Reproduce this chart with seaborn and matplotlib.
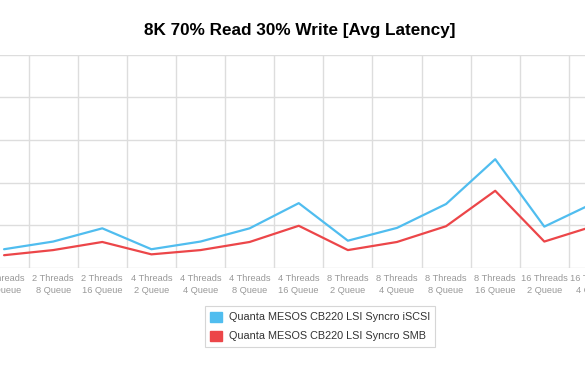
import pandas as pd
import numpy as np
import matplotlib.pyplot as plt
import seaborn as sns
from matplotlib.patches import Patch

# ==================== data (gridline step = 1) ====================
categories = ['2 Threads\n4 Queue', '2 Threads\n8 Queue', '2 Threads\n16 Queue',
              '4 Threads\n2 Queue', '4 Threads\n4 Queue', '4 Threads\n8 Queue',
              '4 Threads\n16 Queue', '8 Threads\n2 Queue', '8 Threads\n4 Queue',
              '8 Threads\n8 Queue', '8 Threads\n16 Queue', '16 Threads\n2 Queue',
              '16 Threads\n4 Queue']
iscsi = [0.44, 0.62, 0.93, 0.44, 0.62, 0.93, 1.52, 0.64, 0.94, 1.50, 2.55, 0.97, 1.52]
smb = [0.30, 0.42, 0.61, 0.32, 0.42, 0.61, 0.99, 0.42, 0.61, 0.98, 1.81, 0.62, 0.98]
series_names = ['Quanta MESOS CB220 LSI Syncro iSCSI', 'Quanta MESOS CB220 LSI Syncro SMB']
colors = ['#50bdef', '#ec4649']

df = pd.DataFrame({
    'cat': categories * 2,
    'lat': iscsi + smb,
    'series': [series_names[0]] * len(categories) + [series_names[1]] * len(categories),
})

sns.set_style('white')
plt.rcParams['font.family'] = ['Liberation Sans', 'DejaVu Sans']

fig = plt.figure(figsize=(5.85, 3.76), dpi=100)
# the chart is cropped: axes run past both figure edges
ax = fig.add_axes([-20.5 / 585, 108 / 376, 638.5 / 585, 213.3 / 376])

sns.lineplot(data=df, x='cat', y='lat', hue='series', palette=colors,
             sort=False, linewidth=1.6, ax=ax, legend=False)

n = len(categories)
ax.set_xlim(-0.5, n - 0.5)
ax.set_ylim(0, 5)
ax.set_yticks(np.arange(0, 6))
ax.set_yticklabels([])
ax.set_xticks(np.arange(n) + 0.5, minor=True)
ax.grid(False)
ax.grid(True, which='minor', axis='x', color='#dddddd', linewidth=1)
ax.grid(True, which='major', axis='y', color='#dddddd', linewidth=1)
ax.tick_params(axis='x', which='both', length=0, labelsize=6.7, labelcolor='#999999', pad=4.5)
ax.tick_params(axis='y', length=0)
for lab in ax.get_xticklabels():
    lab.set_linespacing(1.4)
for s in ax.spines.values():
    s.set_visible(False)
ax.set_xlabel('')
ax.set_ylabel('')

fig.text(300 / 585, 1 - 30.5 / 376, '8K 70% Read 30% Write [Avg Latency]',
         ha='center', va='center', fontsize=12.3, fontweight='bold', color='#000000')

handles = [Patch(facecolor=c, edgecolor=c, label=s) for c, s in zip(colors, series_names)]
leg = fig.legend(handles=handles, loc='center', bbox_to_anchor=(320 / 585, 1 - 326.5 / 376),
                 fontsize=7.8, frameon=True, fancybox=False, edgecolor='#cccccc',
                 handlelength=1.1, handleheight=1.1, handletextpad=0.6,
                 labelspacing=0.75, borderpad=0.5)
leg.get_frame().set_linewidth(0.8)
for t in leg.get_texts():
    t.set_color('#333333')

fig.savefig('out.png', dpi=100)
